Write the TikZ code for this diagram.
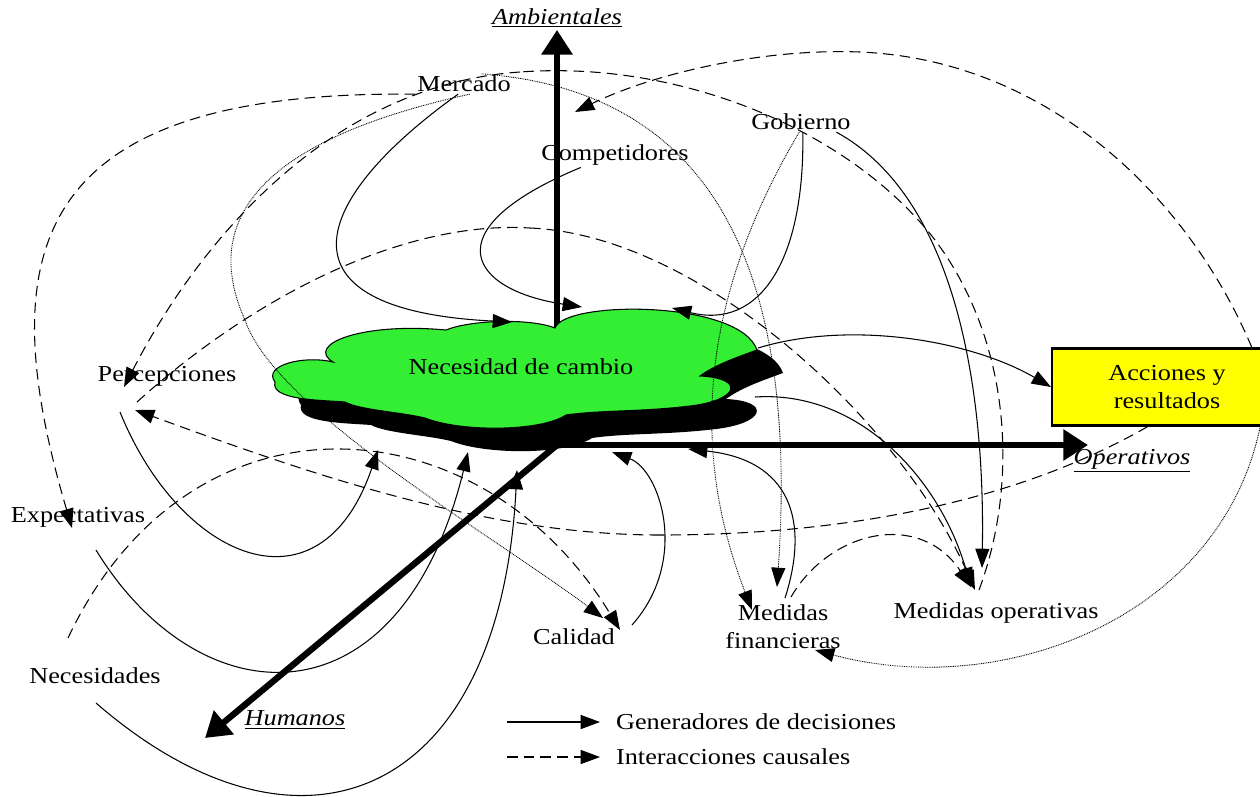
\documentclass[tikz,border=0pt]{standalone}
\usepackage{fontspec}
\setmainfont{Liberation Serif}[FakeStretch=1.15]
\usetikzlibrary{arrows.meta}
\definecolor{cloudgreen}{HTML}{33EE33}
\definecolor{boxyellow}{HTML}{FFFF00}
\newcommand{\cloudpath}{(275,382) .. controls (262,365) and (305,355) .. (333,362)
  .. controls (305,345) and (360,322) .. (446,330)
  .. controls (470,320) and (530,318) .. (555,328)
  .. controls (565,300) and (740,300) .. (757,350)
  .. controls (735,358) and (715,365) .. (700,376)
  .. controls (745,378) and (740,400) .. (690,406)
  .. controls (640,412) and (600,410) .. (566,415)
  .. controls (540,432) and (460,432) .. (425,418)
  .. controls (400,412) and (360,410) .. (345,402)
  .. controls (320,400) and (270,400) .. cycle}

\begin{document}
\begin{tikzpicture}[x=0.02cm, y=-0.02cm,
  lbl/.style={inner sep=1pt, align=center, font=\fontsize{13}{16}\selectfont},
  axlbl/.style={lbl, font=\fontsize{13}{16}\selectfont\itshape},
  box/.style={
    draw, line width=1.2pt, fill=boxyellow, minimum width=4.6cm,
    minimum height=1.54cm, align=center, font=\fontsize{13}{16}\selectfont
  },
  axis/.style={line width=3.6pt, -{Triangle[length=14pt,width=17pt]}},
  gen/.style={line width=0.6pt, -{Triangle[length=11pt,width=8pt]}},
  cau/.style={gen, dash pattern=on 6pt off 3.5pt},
  fine/.style={gen, line width=0.5pt, dash pattern=on 0.5pt off 0.5pt}
]
\useasboundingbox (0,0) rectangle (1260,796);

% cloud with its shadow, and the three axes
\fill[black, shift={(26,23)}] \cloudpath;
\coordinate (O) at (557,445);
\coordinate (ctop) at (557,328);
\coordinate (opeE) at (1088,445);
\coordinate (humE) at (205,738);
\node[axlbl] (amb) at (557,18) {\underline{Ambientales}};
\node[axlbl] (ope) at (1132,461) {\underline{Operativos}};
\node[axlbl] (hum) at (295,720) {\underline{Humanos}};
\draw[axis] (O) -- (opeE);
\draw[axis] (O) -- (humE);
\draw[axis] (ctop) -- (amb.south);
\filldraw[fill=cloudgreen, draw=black, line width=0.6pt] \cloudpath;
\node[lbl] (cloud) at (521,367) {Necesidad de cambio};

\node[box] (acc) at (1167,387) {Acciones y\\resultados};
\node[lbl] (merc) at (464,84) {Mercado};
\node[lbl] (comp) at (615,155) {Competidores};
\node[lbl] (gob) at (801,122) {Gobierno};
\node[lbl] (perc) at (167,376) {Percepciones};
\node[lbl] (expe) at (78,517) {Expectativas};
\node[lbl] (nece) at (95,676) {Necesidades};
\node[lbl] (cal) at (574,637) {Calidad};
\node[lbl] (mfin) at (783,627) {Medidas\\financieras};
\node[lbl] (mope) at (996,613) {Medidas operativas};

% end points on the cloud
\coordinate (cN1) at (512,322);
\coordinate (cN2) at (582,307);
\coordinate (cN3) at (672,308);
\coordinate (cE1) at (758,348);
\coordinate (cE2) at (755,397);
\coordinate (cS1) at (378,450);
\coordinate (cS2) at (468,452);
\coordinate (cS3) at (517,470);
\coordinate (cS4) at (612,452);
\coordinate (cS5) at (688,449);
% end points beside the labels
\coordinate (ambA) at (575,112);
\coordinate (percA) at (124,387);
\coordinate (percB) at (135,410);
\coordinate (percC) at (137,402);
\coordinate (percD) at (120,412);
\coordinate (expeA) at (72,528);
\coordinate (expeB) at (96,550);
\coordinate (neceA) at (68,638);
\coordinate (neceB) at (96,703);
\coordinate (calA) at (620,630);
\coordinate (calB) at (603,618);
\coordinate (calC) at (632,625);
\coordinate (mfinA) at (752,610);
\coordinate (mfinB) at (777,587);
\coordinate (mfinC) at (815,650);
\coordinate (mfinD) at (785,598);
\coordinate (mfinE) at (791,597);
\coordinate (mopeA) at (979,590);
\coordinate (mopeB) at (975,590);
\coordinate (mopeC) at (982,568);
\coordinate (mopeD) at (971,587);

% interacciones causales
\draw[cau] (merc.south west) .. controls (30,90) and (-10,250) .. (expeA);
\draw[cau, -] (mopeA) .. controls (1020,480) and (1010,340) .. (935,240)
  .. controls (850,130) and (680,60) .. (520,72);
\draw[cau] (520,72) .. controls (330,85) and (200,240) .. (percA);
\draw[cau, -] (acc.25) .. controls (1190,200) and (1050,60) .. (860,52);
\draw[cau] (860,52) .. controls (760,48) and (650,75) .. (ambA);
\draw[cau, -] (acc.-116) .. controls (1020,500) and (850,535) .. (660,535);
\draw[cau] (660,535) .. controls (480,535) and (300,470) .. (percB);
\draw[cau, -] (percC) .. controls (250,300) and (400,220) .. (530,228);
\draw[cau] (530,228) .. controls (700,235) and (900,420) .. (mopeB);
\draw[cau] (neceA) .. controls (190,380) and (480,400) .. (calA);
\draw[cau] (mfinE) .. controls (830,530) and (920,510) .. (mopeD);

% generadores de decisiones
\draw[gen] (merc.240) .. controls (310,200) and (270,310) .. (cN1);
\draw[gen] (comp.-160) .. controls (430,230) and (470,290) .. (cN2);
\draw[gen] (gob.-80) .. controls (805,260) and (760,330) .. (cN3);
\draw[gen] (gob.-16) .. controls (960,200) and (985,400) .. (mopeC);
\draw[gen] (cE1) .. controls (850,320) and (970,340) .. (acc.west);
\draw[gen] (cE2) .. controls (860,390) and (940,480) .. (mopeD);
\draw[gen] (mfinD) .. controls (810,520) and (790,460) .. (cS5);
\draw[gen] (calC) .. controls (690,560) and (660,470) .. (cS4);
\draw[gen] (percD) .. controls (180,560) and (320,620) .. (cS1);
\draw[gen] (expeB) .. controls (200,720) and (400,730) .. (cS2);
\draw[gen] (neceB) .. controls (300,880) and (500,800) .. (cS3);
\draw[fine] (gob.-100) .. controls (700,300) and (690,450) .. (mfinA);
\draw[fine] (merc.30) .. controls (700,90) and (800,250) .. (mfinB);
\draw[fine] (acc.-23) .. controls (1220,620) and (1000,700) .. (mfinC);
\draw[fine, -] (merc.-60) .. controls (260,140) and (200,220) .. (245,320);
\draw[fine] (245,320) .. controls (275,410) and (500,540) .. (calB);

% legend
\coordinate (lg1) at (507,722);
\coordinate (lg2) at (507,757);
\node[lbl, anchor=west] (lgen) at (614,722) {Generadores de decisiones};
\node[lbl, anchor=west] (lcau) at (614,757) {Interacciones causales};
\draw[gen] (lg1) -- ++(93,0);
\draw[cau] (lg2) -- ++(93,0);
\end{tikzpicture}
\end{document}
